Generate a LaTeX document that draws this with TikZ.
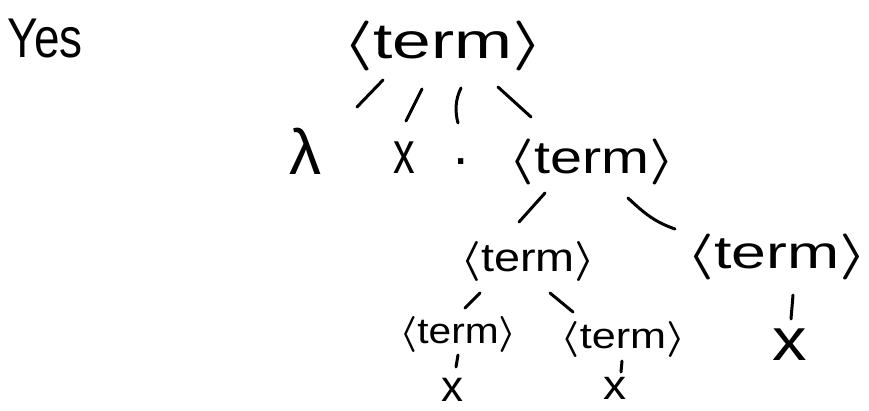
\RequirePackage{fix-cm}
\documentclass[tikz,border=0pt]{standalone}
\usepackage{fontspec}
\setmainfont{Liberation Sans}
\usepackage{graphicx}
\newcommand\tm[2]{\scalebox{#2}[1]{\fontsize{#1}{#1}\selectfont\boldmath$\langle$term$\rangle$}}
\newcommand\hw[3]{\scalebox{#2}[1]{\fontsize{#1}{#1}\selectfont #3}}
\tikzset{
  lbl/.style={inner sep=0pt, outer sep=0pt, anchor=base},
  edge/.style={line width=3pt, line cap=round, line join=round},
}
\begin{document}
\begin{tikzpicture}[x=1pt, y=-1pt]
\useasboundingbox (0,0) rectangle (869,410);
% texts
\node[lbl, anchor=base west] (yes) at (8,57) {\hw{56}{0.82}{Yes}};
\node[lbl] (root) at (443,58) {\tm{50}{1.39}};
\node[lbl] (lam) at (305,174) {\hw{64}{1}{λ}};
\node[lbl] (x1) at (404,173) {\hw{60}{0.72}{x}};
\node[lbl] (dot) at (461,164) {\hw{55}{1}{.}};
\node[lbl] (mid) at (592,173) {\tm{46}{1.25}};
\node[lbl] (l3a) at (528,271) {\tm{40}{1.17}};
\node[lbl] (l3b) at (777,268) {\tm{46}{1.36}};
\node[lbl] (l4a) at (458,343) {\tm{36}{1.13}};
\node[lbl] (l4b) at (623,348) {\tm{36}{1.2}};
\node[lbl] (x2) at (790,360) {\hw{60}{1.15}{x}};
\node[lbl] (x3) at (452,401) {\hw{44}{1}{x}};
\node[lbl] (x4) at (615,399) {\hw{42}{1.1}{x}};
% stroke end points
\coordinate (r1a) at (383,80);  \coordinate (r1b) at (357,107);
\coordinate (r2a) at (422,89);  \coordinate (r2b) at (406,121);
\coordinate (r3a) at (461,88);  \coordinate (r3b) at (458,123);
\coordinate (r4a) at (498,87);  \coordinate (r4b) at (531,117);
\coordinate (m1a) at (545,193); \coordinate (m1b) at (519,222);
\coordinate (m2a) at (628,198); \coordinate (m2b) at (675,229);
\coordinate (l1a) at (480,293); \coordinate (l1b) at (465,308);
\coordinate (l2a) at (550,293); \coordinate (l2b) at (573,312);
\coordinate (rra) at (793,295); \coordinate (rrb) at (791,319);
\coordinate (aa) at (458,355);  \coordinate (ab) at (456,367);
\coordinate (ba) at (622,361);  \coordinate (bb) at (621,372);
% connectors
\draw[edge] (r1a) -- (r1b);
\draw[edge] (r2a) -- (r2b);
\draw[edge] (r3a) .. controls (455,100) and (455,112) .. (r3b);
\draw[edge] (r4a) -- (r4b);
\draw[edge] (m1a) -- (m1b);
\draw[edge] (m2a) .. controls (645,214) and (655,222) .. (m2b);
\draw[edge] (l1a) -- (l1b);
\draw[edge] (l2a) -- (l2b);
\draw[edge] (rra) -- (rrb);
\draw[edge] (aa) -- (ab);
\draw[edge] (ba) -- (bb);
\end{tikzpicture}
\end{document}
